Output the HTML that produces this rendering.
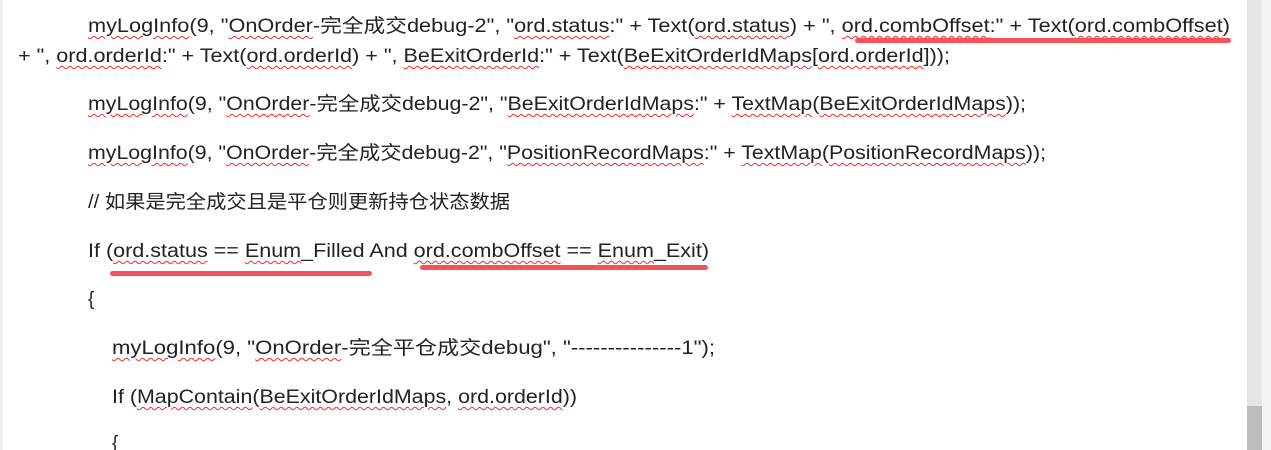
<!DOCTYPE html>
<html><head><meta charset="utf-8"><style>
html,body{margin:0;padding:0;background:#fff;width:1271px;height:450px;overflow:hidden;position:relative}
.l{position:absolute;white-space:nowrap;font-family:"Liberation Sans","Noto Sans CJK SC",sans-serif;font-size:19px;color:#222;line-height:24px;transform-origin:0 50%}
.w{text-decoration:underline wavy #e33;text-decoration-thickness:1px;text-underline-offset:3px}
.r{position:absolute;background:#f5535a;height:5px;border-radius:3px}
</style></head><body>
<div style="position:absolute;left:0;top:0;width:3px;height:450px;background:#f0f0f0"></div>
<div class="l" data-w="1142" style="left:88px;top:15px"><span class="w">myLogInfo</span>(9, "<span class="w">OnOrder</span>-完全成交debug-2", "<span class="w">ord.status</span>:" + Text(<span class="w">ord.status</span>) + ", <span class="w">ord.combOffset</span>:" + Text(<span class="w">ord.combOffset</span>)</div>
<div class="l" data-w="932" style="left:18px;top:45px">+ ", <span class="w">ord.orderId</span>:" + Text(<span class="w">ord.orderId</span>) + ", <span class="w">BeExitOrderId</span>:" + Text(<span class="w">BeExitOrderIdMaps</span>[<span class="w">ord.orderId</span>]));</div>
<div class="l" data-w="938" style="left:88px;top:93px"><span class="w">myLogInfo</span>(9, "<span class="w">OnOrder</span>-完全成交debug-2", "<span class="w">BeExitOrderIdMaps</span>:" + <span class="w">TextMap</span>(<span class="w">BeExitOrderIdMaps</span>));</div>
<div class="l" data-w="958" style="left:88px;top:142px"><span class="w">myLogInfo</span>(9, "<span class="w">OnOrder</span>-完全成交debug-2", "<span class="w">PositionRecordMaps</span>:" + <span class="w">TextMap</span>(<span class="w">PositionRecordMaps</span>));</div>
<div class="l" data-w="422" style="left:88px;top:191px">// 如果是完全成交且是平仓则更新持仓状态数据</div>
<div class="l" data-w="621" style="left:88px;top:240px">If (<span class="w">ord.status</span> == <span class="w">Enum</span>_Filled And <span class="w">ord.combOffset</span> == <span class="w">Enum</span>_Exit)</div>
<div class="l" style="left:88px;top:288px">{</div>
<div class="l" data-w="603" style="left:112px;top:337px"><span class="w">myLogInfo</span>(9, "<span class="w">OnOrder</span>-完全平仓成交debug", "---------------1");</div>
<div class="l" data-w="465" style="left:112px;top:386px">If (<span class="w">MapContain</span>(<span class="w">BeExitOrderIdMaps</span>, <span class="w">ord.orderId</span>))</div>
<div class="l" style="left:112px;top:432px">{</div>
<div class="r" style="left:855px;top:38px;width:376px"></div>
<div class="r" style="left:110px;top:271px;width:262px"></div>
<div class="r" style="left:420px;top:265px;width:288px"></div>
<div style="position:absolute;left:1247px;top:0;width:15px;height:450px;background:#e6e6e6"></div>
<div style="position:absolute;left:1247px;top:406px;width:15px;height:44px;background:#bcbcbc"></div>
<div style="position:absolute;left:1262px;top:0;width:9px;height:450px;background:#f4f4f4"></div>
<script>
document.querySelectorAll('.l[data-w]').forEach(function(e){var t=+e.dataset.w,w=e.getBoundingClientRect().width;if(w>0)e.style.transform='scaleX('+(t/w)+')';});
</script>
</body></html>
